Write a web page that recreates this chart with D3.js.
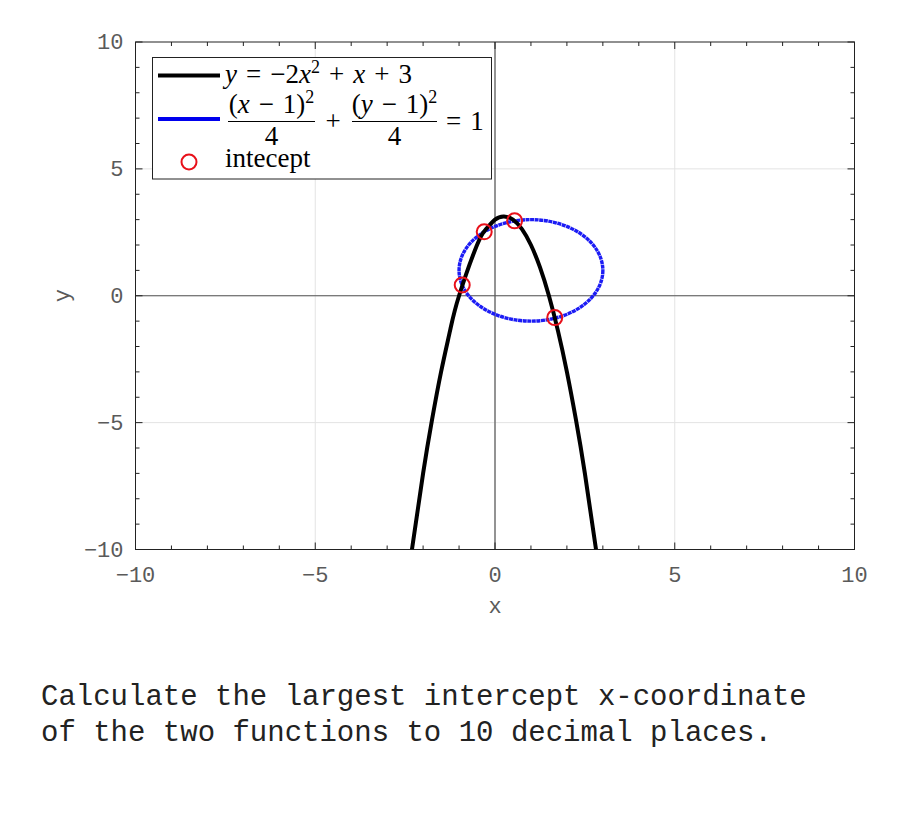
<!DOCTYPE html>
<html>
<head>
<meta charset="utf-8">
<script src="https://cdn.jsdelivr.net/npm/d3@7"></script>
<style>
  body { margin: 0; background: #fff; }
  .tick-label { font-family: "Liberation Mono", "DejaVu Sans Mono", monospace; font-size: 22px; fill: #5a5a5a; }
  .math { font-family: "Liberation Serif", "DejaVu Serif", serif; font-size: 27px; fill: #000; }
  .question { font-family: "Liberation Mono", "DejaVu Sans Mono", monospace; font-size: 29px; fill: #222; }
</style>
</head>
<body>
<script>
var parabolaX = [-2.31, -2, -1.75, -1.5, -1.25, -1, -0.5, -0.25, 0, 0.25, 0.5, 0.75, 1, 1.25, 1.5, 1.75, 2, 2.25, 2.5, 2.81];
var parabolaY = [-10, -7, -4.875, -3, -1.375, 0, 2, 2.625, 3, 3.125, 3, 2.625, 2, 1.125, 0, -1.375, -3, -4.875, -7, -10];

// circle (x-1)^2/4 + (y-1)^2/4 = 1 : centre and semi axes
var ellipseCenter = [1, 1];
var ellipseRadii = [2, 2];

// intercept points
var interceptX = [-0.912, -0.300, 0.545, 1.662];
var interceptY = [0.424, 2.520, 2.951, -0.862];

var majorTicks = [-10, -5, 0, 5, 10];
var minorTicks = d3.range(-10, 11, 1);
var gridTicks = [-5, 0, 5];

var width = 900, height = 825;
var margin = {top: 42, right: 45.5, bottom: 275.5, left: 135.5};
var innerW = width - margin.left - margin.right,
    innerH = height - margin.top - margin.bottom;

var svg = d3.select("body").append("svg")
    .attr("width", width)
    .attr("height", height);

var x = d3.scaleLinear().domain([-10, 10]).range([margin.left, margin.left + innerW]);
var y = d3.scaleLinear().domain([-10, 10]).range([margin.top + innerH, margin.top]);

svg.append("clipPath").attr("id", "plotclip")
  .append("rect")
    .attr("x", margin.left).attr("y", margin.top)
    .attr("width", innerW).attr("height", innerH);

// grid
svg.append("g").selectAll("line")
  .data(gridTicks).enter().append("line")
    .attr("x1", function(d) { return x(d); }).attr("x2", function(d) { return x(d); })
    .attr("y1", y(-10)).attr("y2", y(10))
    .attr("stroke", "#e3e3e3").attr("stroke-width", 1);
svg.append("g").selectAll("line")
  .data(gridTicks).enter().append("line")
    .attr("y1", function(d) { return y(d); }).attr("y2", function(d) { return y(d); })
    .attr("x1", x(-10)).attr("x2", x(10))
    .attr("stroke", "#e3e3e3").attr("stroke-width", 1);

// zero axes
svg.append("line")
    .attr("x1", x(0)).attr("x2", x(0)).attr("y1", y(-10)).attr("y2", y(10))
    .attr("stroke", "#555").attr("stroke-width", 1.2);
svg.append("line")
    .attr("y1", y(0)).attr("y2", y(0)).attr("x1", x(-10)).attr("x2", x(10))
    .attr("stroke", "#555").attr("stroke-width", 1.2);

// ticks on all four sides, pointing inward
var ticks = svg.append("g").attr("stroke", "#222").attr("stroke-width", 1);
minorTicks.forEach(function(t) {
  var len = majorTicks.indexOf(t) >= 0 ? 7 : 4;
  ticks.append("line").attr("x1", x(t)).attr("x2", x(t)).attr("y1", y(-10)).attr("y2", y(-10) - len);
  ticks.append("line").attr("x1", x(t)).attr("x2", x(t)).attr("y1", y(10)).attr("y2", y(10) + len);
  ticks.append("line").attr("y1", y(t)).attr("y2", y(t)).attr("x1", x(-10)).attr("x2", x(-10) + len);
  ticks.append("line").attr("y1", y(t)).attr("y2", y(t)).attr("x1", x(10)).attr("x2", x(10) - len);
});

// box
svg.append("rect")
    .attr("x", margin.left).attr("y", margin.top)
    .attr("width", innerW).attr("height", innerH)
    .attr("fill", "none").attr("stroke", "#222").attr("stroke-width", 1);

// tick labels
function fmt(d) { return d < 0 ? "\u2212" + Math.abs(d) : d; }
svg.append("g").selectAll("text")
  .data(majorTicks).enter().append("text")
    .attr("class", "tick-label")
    .attr("x", function(d) { return x(d); })
    .attr("y", 582)
    .attr("text-anchor", "middle")
    .text(fmt);
svg.append("g").selectAll("text")
  .data(majorTicks).enter().append("text")
    .attr("class", "tick-label")
    .attr("x", margin.left - 12)
    .attr("y", function(d) { return y(d) + 7; })
    .attr("text-anchor", "end")
    .text(fmt);

svg.append("text").attr("class", "tick-label")
    .attr("x", x(0)).attr("y", 613).attr("text-anchor", "middle").text("x");
svg.append("text").attr("class", "tick-label")
    .attr("transform", "translate(69," + y(0) + ") rotate(-90)")
    .attr("text-anchor", "middle").text("y");

var plot = svg.append("g").attr("clip-path", "url(#plotclip)");

// ellipse
plot.append("ellipse")
    .attr("cx", x(ellipseCenter[0])).attr("cy", y(ellipseCenter[1]))
    .attr("rx", x(ellipseRadii[0]) - x(0)).attr("ry", y(0) - y(ellipseRadii[1]))
    .attr("fill", "none").attr("stroke", "#1c1cf5").attr("stroke-width", 3.4)
    .attr("stroke-dasharray", "4,0.6");

// parabola
var line = d3.line()
    .x(function(d) { return x(d[0]); })
    .y(function(d) { return y(d[1]); })
    .curve(d3.curveNatural);
plot.append("path")
    .datum(d3.zip(parabolaX, parabolaY))
    .attr("d", line)
    .attr("fill", "none").attr("stroke", "#000").attr("stroke-width", 4);

// intercepts
plot.selectAll("circle.pt")
  .data(d3.zip(interceptX, interceptY)).enter().append("circle")
    .attr("cx", function(d) { return x(d[0]); })
    .attr("cy", function(d) { return y(d[1]); })
    .attr("r", 7.5)
    .attr("fill", "none").attr("stroke", "#e8101a").attr("stroke-width", 2);

// legend
var lg = svg.append("g");
lg.append("rect").attr("x", 152.5).attr("y", 57.5).attr("width", 339).attr("height", 121.5)
    .attr("fill", "#fff").attr("stroke", "#222").attr("stroke-width", 1);
lg.append("line").attr("x1", 158).attr("x2", 220).attr("y1", 75.5).attr("y2", 75.5)
    .attr("stroke", "#000").attr("stroke-width", 4);
lg.append("line").attr("x1", 158).attr("x2", 220).attr("y1", 119).attr("y2", 119)
    .attr("stroke", "#0000ee").attr("stroke-width", 4);
lg.append("circle").attr("cx", 189).attr("cy", 162).attr("r", 7.5)
    .attr("fill", "none").attr("stroke", "#e8101a").attr("stroke-width", 2);

var sp = "\u2004";
function it(t) { return '<tspan font-style="italic">' + t + '</tspan>'; }
function sup(t) { return '<tspan baseline-shift="10" font-size="18">' + t + '</tspan>'; }

lg.append("text").attr("class", "math").attr("x", 225).attr("y", 83)
    .attr("xml:space", "preserve")
    .html(it("y") + sp + "=" + sp + "\u22122" + it("x") + sup("2") + sp + "+" + sp + it("x") + sp + "+" + sp + "3");

// fractions
function fraction(xl, xr, num) {
  lg.append("text").attr("class", "math").attr("x", (xl + xr) / 2).attr("y", 113)
      .attr("text-anchor", "middle").attr("xml:space", "preserve").html(num);
  lg.append("line").attr("x1", xl).attr("x2", xr).attr("y1", 121.5).attr("y2", 121.5)
      .attr("stroke", "#000").attr("stroke-width", 1);
  lg.append("text").attr("class", "math").attr("x", (xl + xr) / 2).attr("y", 145)
      .attr("text-anchor", "middle").text("4");
}
fraction(228, 315, "(" + it("x") + sp + "\u2212" + sp + "1)" + sup("2"));
lg.append("text").attr("class", "math").attr("x", 333).attr("y", 130)
    .attr("text-anchor", "middle").text("+");
fraction(352, 437, "(" + it("y") + sp + "\u2212" + sp + "1)" + sup("2"));
lg.append("text").attr("class", "math").attr("x", 446).attr("y", 130)
    .attr("xml:space", "preserve").text("=" + sp + "1");
lg.append("text").attr("class", "math").attr("x", 225).attr("y", 167).text("intecept");

// question text
svg.append("text").attr("class", "question").attr("x", 41).attr("y", 705)
    .text("Calculate the largest intercept x-coordinate");
svg.append("text").attr("class", "question").attr("x", 41).attr("y", 741)
    .text("of the two functions to 10 decimal places.");
</script>
</body>
</html>
